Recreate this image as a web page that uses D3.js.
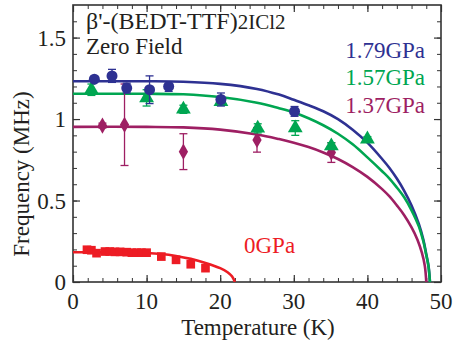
<!DOCTYPE html>
<html>
<head>
<meta charset="utf-8">
<script src="https://cdn.jsdelivr.net/npm/d3@7"></script>
<style>
  body { margin: 0; background: #fff; }
</style>
</head>
<body>
<div id="chart"></div>
<script>
// measured points: [T (K), frequency (MHz), error]
const p179 = [[2.9,1.245,0],[5.3,1.265,0.04],[7.3,1.19,0.03],[10.4,1.18,0.085],[13,1.2,0.03],[20.1,1.12,0.04],[30.1,1.047,0.03]];
const p157 = [[2.5,1.18,0.035],[10,1.13,0.05],[15,1.06,0.025],[20.1,1.107,0.02],[25.1,0.943,0.028],[30.2,0.945,0.045],[35.1,0.835,0.02],[40,0.877,0.015]];
const p137 = [[4,0.96,0.015],[7,0.965,0.25],[15,0.8,0.11],[25,0.872,0.075],[35.1,0.794,0.06]];
const p0 = [[1.9,0.198],[2.5,0.195],[3.2,0.177],[4.35,0.187],[5,0.187],[5.7,0.185],[6.4,0.185],[7.3,0.183],[8,0.18],[8.7,0.18],[9.3,0.18],[10,0.18],[12,0.156],[14,0.136],[16,0.109],[18,0.085]];

// fit curves
const c179 = [[0,1.232],[10,1.232],[15,1.229],[20,1.216],[25,1.185],[28,1.15],[30,1.118],[32,1.085],[34,1.048],[36,1.0],[38,0.935],[40,0.855],[42,0.755],[43,0.7],[44,0.635],[45,0.56],[46,0.47],[47,0.355],[47.6,0.26],[48,0.17],[48.3,0.1],[48.5,0]];
const c157 = [[0,1.155],[10,1.155],[15,1.152],[20,1.135],[25,1.1],[28,1.066],[30,1.04],[32,1.005],[34,0.962],[36,0.91],[38,0.845],[40,0.765],[42,0.68],[43,0.635],[44,0.58],[45,0.52],[46,0.44],[47,0.34],[47.6,0.25],[48,0.165],[48.3,0.095],[48.5,0]];
const c137 = [[0,0.952],[10,0.952],[15,0.949],[20,0.935],[25,0.905],[28,0.877],[30,0.855],[32,0.828],[34,0.795],[36,0.755],[38,0.705],[40,0.645],[42,0.57],[43,0.525],[44,0.47],[45,0.41],[46,0.335],[46.8,0.26],[47.4,0.18],[47.8,0.1],[48,0]];
const c0 = [[0,0.183],[5,0.182],[10,0.178],[12,0.172],[14,0.16],[16,0.142],[18,0.117],[20,0.085],[21,0.06],[21.6,0.035],[22,0]];

const xTicks = [0,10,20,30,40,50];
const yTicks = [0,0.5,1,1.5];
const pressures = ["1.79GPa","1.57GPa","1.37GPa","0GPa"];
const colors = ["#2e3192","#00a651","#9e1f63","#ed1c24"];

const W = 454, H = 342;
const mLeft = 73, mRight = 441, mTop = 5, mBottom = 282;
const fs = 23;

const svg = d3.select("#chart").append("svg")
    .attr("width", W).attr("height", H)
    .attr("font-family", "'Liberation Serif', 'Times New Roman', serif");

const x = d3.scaleLinear().domain([0,50]).range([mLeft,mRight]);
const y = d3.scaleLinear().domain([0,1.7]).range([mBottom,mTop]);

const axisCol = "#333";
const textCol = "#231f20";

// ticks, all pointing inward
function ticks(axisFn, scale, major, minor, transform) {
    svg.append("g").attr("transform", transform)
        .call(axisFn(scale).tickValues(minor).tickSize(4).tickFormat(""))
        .call(g => g.select(".domain").remove())
        .call(g => g.selectAll("line").attr("stroke", axisCol).attr("stroke-width", 1));
    svg.append("g").attr("transform", transform)
        .call(axisFn(scale).tickValues(major).tickSize(7).tickFormat(""))
        .call(g => g.select(".domain").remove())
        .call(g => g.selectAll("line").attr("stroke", axisCol).attr("stroke-width", 1.2));
}
const xMinor = d3.range(0, 50.1, 2);
const yMinor = d3.range(0, 17).map(d => d / 10);
ticks(d3.axisTop, x, xTicks, xMinor, `translate(0,${mBottom})`);
ticks(d3.axisBottom, x, xTicks, xMinor, `translate(0,${mTop})`);
ticks(d3.axisRight, y, yTicks, yMinor, `translate(${mLeft},0)`);
ticks(d3.axisLeft, y, yTicks, yMinor, `translate(${mRight},0)`);

svg.append("rect")
    .attr("x", mLeft).attr("y", mTop)
    .attr("width", mRight - mLeft).attr("height", mBottom - mTop)
    .attr("fill", "none").attr("stroke", axisCol).attr("stroke-width", 1.6);

// tick labels
svg.selectAll(".xl").data(xTicks).enter().append("text")
    .attr("x", d => x(d)).attr("y", 309)
    .attr("text-anchor", "middle").attr("font-size", fs).attr("fill", textCol)
    .text(d => d);
svg.selectAll(".yl").data(yTicks).enter().append("text")
    .attr("x", 66).attr("y", d => y(d) + 8)
    .attr("text-anchor", "end").attr("font-size", fs).attr("fill", textCol)
    .text(d => d);

svg.append("text")
    .attr("x", 258).attr("y", 335)
    .attr("text-anchor", "middle").attr("font-size", fs).attr("fill", textCol)
    .text("Temperature (K)");
svg.append("text")
    .attr("transform", "translate(29,174) rotate(-90)")
    .attr("text-anchor", "middle").attr("font-size", fs).attr("fill", textCol)
    .text("Frequency (MHz)");

// curves
svg.append("clipPath").attr("id", "clip")
    .append("rect").attr("x", mLeft).attr("y", mTop)
    .attr("width", mRight - mLeft).attr("height", mBottom - mTop);
const plot = svg.append("g").attr("clip-path", "url(#clip)");

const lineGen = d3.line().x(d => x(d[0])).y(d => y(d[1])).curve(d3.curveCatmullRom.alpha(0.5));
[c179, c157, c137, c0].forEach((c, i) => {
    plot.append("path").datum(c)
        .attr("d", lineGen)
        .attr("fill", "none")
        .attr("stroke", colors[i])
        .attr("stroke-width", 2.6);
});

// points with error bars
function drawPoints(data, col, type, size) {
    const g = svg.append("g");
    data.filter(d => d[2] > 0).forEach(d => {
        g.append("line")
            .attr("x1", x(d[0])).attr("x2", x(d[0]))
            .attr("y1", y(d[1] - d[2])).attr("y2", y(d[1] + d[2]))
            .attr("stroke", col).attr("stroke-width", 1.3);
        [d[1] - d[2], d[1] + d[2]].forEach(v => {
            g.append("line")
                .attr("x1", x(d[0]) - 4).attr("x2", x(d[0]) + 4)
                .attr("y1", y(v)).attr("y2", y(v))
                .attr("stroke", col).attr("stroke-width", 1.3);
        });
    });
    g.selectAll("path").data(data).enter().append("path")
        .attr("transform", d => `translate(${x(d[0])},${y(d[1])})`)
        .attr("d", d3.symbol().type(type).size(size))
        .attr("fill", col);
}
drawPoints(p137, colors[2], d3.symbolDiamond, 75);
drawPoints(p157, colors[1], d3.symbolTriangle, 95);
drawPoints(p179, colors[0], d3.symbolCircle, 95);
drawPoints(p0.map(d => [d[0], d[1], 0]), colors[3], d3.symbolSquare, 75);

// labels
const title = svg.append("text").attr("x", 86).attr("y", 29).attr("font-size", 24).attr("fill", textCol);
title.append("tspan").text("β'-(BEDT-TTF)");
title.append("tspan").attr("font-size", 21).text("2ICl2");
svg.append("text").attr("x", 86).attr("y", 54).attr("font-size", fs).attr("fill", textCol).text("Zero Field");

const legY = [58, 85, 113];
pressures.slice(0, 3).forEach((p, i) => {
    svg.append("text").attr("x", 425).attr("y", legY[i])
        .attr("text-anchor", "end").attr("font-size", fs)
        .attr("fill", colors[i]).text(p);
});
svg.append("text").attr("x", 244).attr("y", 253).attr("font-size", fs)
    .attr("fill", colors[3]).text(pressures[3]);
</script>
</body>
</html>
